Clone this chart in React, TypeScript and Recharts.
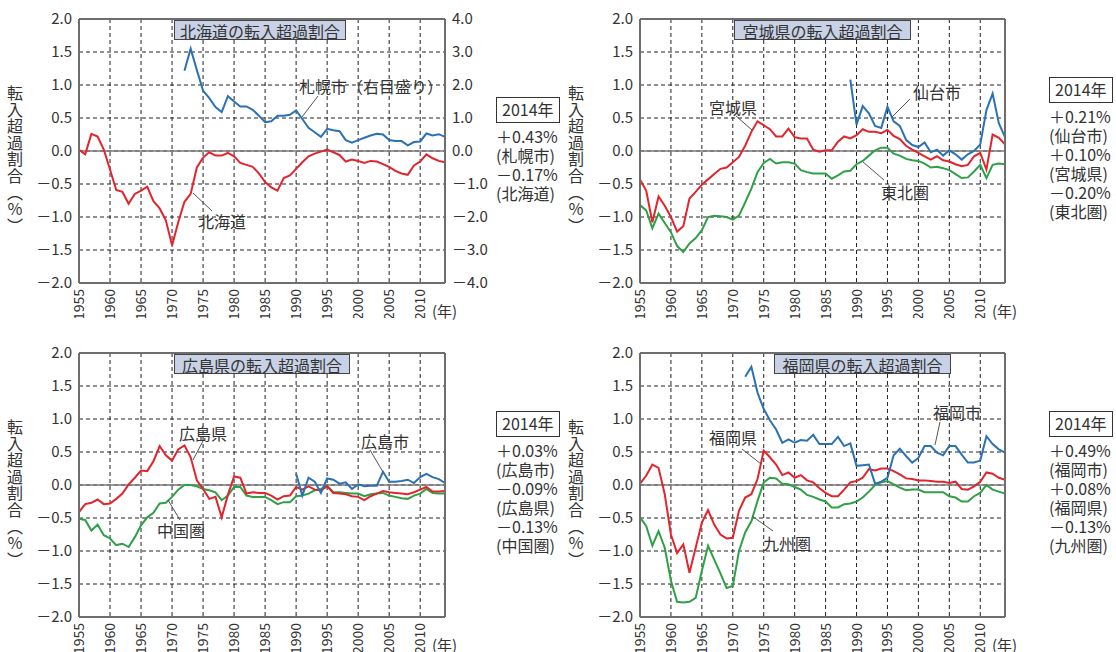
import { LineChart, Line, XAxis, YAxis, CartesianGrid, ReferenceLine } from "recharts";

// years 1955-2014
const YEARS = Array.from({ length: 60 }, (_, i) => 1955 + i);
const X_TICKS = [1955, 1960, 1965, 1970, 1975, 1980, 1985, 1990, 1995, 2000, 2005, 2010];
const LEFT_TICKS = [-2, -1.5, -1, -0.5, 0, 0.5, 1, 1.5, 2];
const RIGHT_TICKS = [-4, -3, -2, -1, 0, 1, 2, 3, 4];

const _ = null;

// 北海道 / 札幌市 (札幌市は右目盛り)
const HOKKAIDO = [
  0.02, -0.05, 0.26, 0.22, 0.02, -0.28, -0.59, -0.62, -0.8, -0.65,
  -0.6, -0.54, -0.76, -0.87, -1.05, -1.43, -1.08, -0.77, -0.65, -0.25,
  -0.1, -0.02, -0.07, -0.07, -0.03, -0.08, -0.18, -0.21, -0.24, -0.34,
  -0.47, -0.55, -0.6, -0.41, -0.37, -0.27, -0.17, -0.08, -0.04, -0.01,
  0.02, -0.02, -0.06, -0.16, -0.13, -0.15, -0.18, -0.15, -0.16, -0.2,
  -0.24, -0.3, -0.34, -0.36, -0.22, -0.16, -0.05, -0.11, -0.15, -0.17,
];
const SAPPORO = [
  _, _, _, _, _, _, _, _, _, _,
  _, _, _, _, _, _, _, 2.43, 3.1, 2.45,
  1.83, 1.6, 1.33, 1.18, 1.66, 1.5, 1.35, 1.35, 1.25, 1.07,
  0.87, 0.9, 1.07, 1.07, 1.1, 1.23, 0.97, 0.7, 0.57, 0.43,
  0.67, 0.63, 0.6, 0.33, 0.25, 0.33, 0.4, 0.47, 0.52, 0.5,
  0.33, 0.3, 0.3, 0.17, 0.27, 0.29, 0.53, 0.47, 0.51, 0.43,
];

// 宮城県 / 仙台市 / 東北圏
const MIYAGI = [
  -0.43, -0.6, -1.08, -0.69, -0.83, -1.0, -1.22, -1.14, -0.72, -0.62,
  -0.51, -0.43, -0.35, -0.27, -0.25, -0.17, -0.09, 0.08, 0.29, 0.45,
  0.39, 0.33, 0.22, 0.22, 0.34, 0.21, 0.19, 0.19, 0.02, -0.01,
  0.01, 0.01, 0.14, 0.22, 0.19, 0.24, 0.33, 0.29, 0.29, 0.27,
  0.32, 0.23, 0.18, 0.08, 0.02, -0.03, -0.08, -0.13, -0.08, -0.14,
  -0.16, -0.2, -0.23, -0.21, -0.08, -0.03, -0.28, 0.25, 0.2, 0.1,
];
const SENDAI = [
  _, _, _, _, _, _, _, _, _, _,
  _, _, _, _, _, _, _, _, _, _,
  _, _, _, _, _, _, _, _, _, _,
  _, _, _, _, 1.08, 0.4, 0.68, 0.57, 0.38, 0.35,
  0.67, 0.45, 0.38, 0.17, 0.09, 0.06, 0.13, -0.02, 0.02, -0.07,
  0.01, -0.05, -0.13, -0.05, 0.0, 0.1, 0.62, 0.87, 0.42, 0.21,
];
const TOHOKU = [
  -0.82, -0.9, -1.17, -0.95, -1.09, -1.23, -1.44, -1.53, -1.4, -1.32,
  -1.2, -1.0, -0.98, -0.99, -1.0, -1.04, -0.98, -0.78, -0.57, -0.32,
  -0.18, -0.12, -0.19, -0.17, -0.17, -0.19, -0.29, -0.32, -0.34, -0.34,
  -0.34, -0.42, -0.37, -0.31, -0.3, -0.2, -0.15, -0.07, 0.01, 0.05,
  0.05, -0.04, -0.07, -0.12, -0.14, -0.15, -0.19, -0.25, -0.24, -0.26,
  -0.29, -0.35, -0.41, -0.4, -0.31, -0.21, -0.41, -0.21, -0.19, -0.2,
];

// 広島県 / 広島市 / 中国圏
const HIROSHIMA = [
  -0.41, -0.29, -0.27, -0.22, -0.29, -0.28, -0.21, -0.13, 0.01, 0.11,
  0.22, 0.21, 0.36, 0.59, 0.45, 0.37, 0.54, 0.6, 0.42, 0.07,
  -0.06, -0.21, -0.18, -0.49, -0.15, 0.13, 0.11, -0.13, -0.11, -0.12,
  -0.12, -0.16, -0.22, -0.17, -0.16, -0.03, -0.07, -0.02, -0.07, -0.08,
  -0.02, -0.12, -0.13, -0.14, -0.17, -0.18, -0.23, -0.17, -0.13, -0.09,
  -0.11, -0.12, -0.13, -0.14, -0.11, -0.07, -0.03, -0.1, -0.1, -0.09,
];
const HIROSHIMA_CITY = [
  _, _, _, _, _, _, _, _, _, _,
  _, _, _, _, _, _, _, _, _, _,
  _, _, _, _, _, _, _, _, _, _,
  _, _, _, _, _, 0.17, -0.16, 0.11, 0.05, -0.12,
  0.1, 0.08, 0.02, 0.04, -0.06, 0.01, -0.02, -0.01, -0.01, 0.2,
  0.05, 0.05, 0.06, 0.08, 0.03, 0.12, 0.17, 0.12, 0.09, 0.03,
];
const CHUGOKU = [
  -0.51, -0.53, -0.69, -0.6, -0.76, -0.81, -0.91, -0.89, -0.94, -0.79,
  -0.61, -0.49, -0.42, -0.28, -0.27, -0.18, -0.07, 0.0, 0.0, -0.02,
  -0.06, -0.08, -0.11, -0.23, -0.16, -0.03, -0.03, -0.16, -0.18, -0.18,
  -0.18, -0.23, -0.29, -0.26, -0.26, -0.17, -0.16, -0.13, -0.08, -0.06,
  -0.01, -0.11, -0.11, -0.12, -0.13, -0.13, -0.17, -0.14, -0.13, -0.12,
  -0.16, -0.18, -0.2, -0.21, -0.16, -0.13, -0.06, -0.12, -0.13, -0.13,
];

// 福岡県 / 福岡市 / 九州圏
const FUKUOKA = [
  0.02, 0.14, 0.31, 0.26, -0.14, -0.75, -1.03, -0.9, -1.33, -0.95,
  -0.57, -0.38, -0.6, -0.75, -0.81, -0.8, -0.39, -0.19, -0.14, 0.09,
  0.52, 0.42, 0.31, 0.15, 0.19, 0.11, 0.15, 0.07, 0.04, -0.05,
  -0.12, -0.17, -0.17, -0.07, 0.04, 0.06, 0.11, 0.24, 0.22, 0.25,
  0.25, 0.21, 0.16, 0.1, 0.09, 0.07, 0.07, 0.06, 0.05, 0.05,
  0.03, 0.05, -0.06, -0.07, -0.02, 0.05, 0.19, 0.17, 0.11, 0.08,
];
const FUKUOKA_CITY = [
  _, _, _, _, _, _, _, _, _, _,
  _, _, _, _, _, _, _, 1.64, 1.79, 1.4,
  1.15, 0.98, 0.84, 0.64, 0.69, 0.64, 0.68, 0.67, 0.76, 0.62,
  0.62, 0.62, 0.73, 0.59, 0.63, 0.29, 0.3, 0.31, 0.02, 0.05,
  0.11, 0.45, 0.55, 0.44, 0.34, 0.41, 0.59, 0.59, 0.49, 0.45,
  0.59, 0.59, 0.46, 0.34, 0.34, 0.37, 0.74, 0.62, 0.54, 0.49,
];
const KYUSHU = [
  -0.49, -0.62, -0.92, -0.7, -0.95, -1.45, -1.77, -1.78, -1.77, -1.71,
  -1.3, -0.92, -1.13, -1.34, -1.56, -1.53, -1.0, -0.72, -0.55, -0.24,
  0.04, 0.11, 0.1, 0.02, 0.01, -0.03, -0.07, -0.15, -0.18, -0.22,
  -0.25, -0.34, -0.34, -0.29, -0.28, -0.25, -0.19, -0.1, 0.0, 0.04,
  0.06, 0.01, -0.04, -0.08, -0.07, -0.07, -0.11, -0.11, -0.11, -0.11,
  -0.17, -0.19, -0.25, -0.25, -0.17, -0.12, 0.0, -0.07, -0.1, -0.13,
];

const RED = "#e2242d";
const BLUE = "#2b72b5";
const GREEN = "#2fa048";
const AXIS = "#6e6e6e";
const INK = "#333";
const FONT = '"Noto Sans CJK JP", "Noto Sans", sans-serif';

const Y_LABEL = "転入超過割合（％）";

const fmt = (v: number) => (v < 0 ? "－" : "") + Math.abs(v).toFixed(1);

function YearTick(props: any) {
  const { x, y, payload } = props;
  return (
    <text
      x={x}
      y={y}
      transform={`rotate(-90 ${x} ${y})`}
      textAnchor="end"
      dy="0.36em"
      fontSize={14}
      fill={INK}
    >
      {payload.value}
    </text>
  );
}

const panels = [
  {
    left: 0, top: 0, width: 520, height: 318, mt: 19, ml: 19,
    title: "北海道の転入超過割合", titleBox: [174, 20, 172],
    series: [
      { key: "pref", values: HOKKAIDO, color: RED },
      { key: "city", values: SAPPORO, color: BLUE, right: true },
    ],
    yLabel: [7, 85], nen: [432, 310],
    note: [496, 97, ["＋0.43%", "(札幌市)", "－0.17%", "(北海道)"]],
    labels: [["札幌市（右目盛り）", 299, 86], ["北海道", 198, 221]],
    leaders: [[318, 96, 302, 117], [193, 193, 212, 211]],
  },
  {
    left: 556, top: 0, width: 524, height: 318, mt: 19, ml: 24,
    title: "宮城県の転入超過割合", titleBox: [734, 20, 177],
    series: [
      { key: "area", values: TOHOKU, color: GREEN },
      { key: "pref", values: MIYAGI, color: RED },
      { key: "city", values: SENDAI, color: BLUE },
    ],
    yLabel: [568, 85], nen: [992, 310],
    note: [1049, 77, ["＋0.21%", "(仙台市)", "＋0.10%", "(宮城県)", "－0.20%", "(東北圏)"]],
    labels: [["宮城県", 709, 107], ["仙台市", 913, 92], ["東北圏", 881, 192]],
    leaders: [[736, 116, 752, 130], [910, 99, 892, 117], [884, 180, 863, 162]],
  },
  {
    left: 0, top: 330, width: 520, height: 322, mt: 23, ml: 19,
    title: "広島県の転入超過割合", titleBox: [174, 354, 176],
    series: [
      { key: "area", values: CHUGOKU, color: GREEN },
      { key: "pref", values: HIROSHIMA, color: RED },
      { key: "city", values: HIROSHIMA_CITY, color: BLUE },
    ],
    yLabel: [7, 419], nen: [432, 644],
    note: [496, 411, ["＋0.03%", "(広島市)", "－0.09%", "(広島県)", "－0.13%", "(中国圏)"]],
    labels: [["広島県", 179, 433], ["広島市", 361, 441], ["中国圏", 157, 530]],
    leaders: [[203, 441, 193, 460], [370, 450, 383, 472], [180, 520, 168, 500]],
  },
  {
    left: 556, top: 330, width: 524, height: 322, mt: 23, ml: 24,
    title: "福岡県の転入超過割合", titleBox: [774, 354, 177],
    series: [
      { key: "area", values: KYUSHU, color: GREEN },
      { key: "pref", values: FUKUOKA, color: RED },
      { key: "city", values: FUKUOKA_CITY, color: BLUE },
    ],
    yLabel: [568, 419], nen: [992, 644],
    note: [1049, 411, ["＋0.49%", "(福岡市)", "＋0.08%", "(福岡県)", "－0.13%", "(九州圏)"]],
    labels: [["福岡県", 709, 437], ["福岡市", 933, 412], ["九州圏", 763, 543]],
    leaders: [[742, 449, 761, 464], [940, 422, 935, 445], [773, 531, 752, 516]],
  },
];

function Panel({ cfg }: { cfg: any }) {
  const rows = YEARS.map((year, i) => {
    const r: any = { year };
    cfg.series.forEach((s: any) => (r[s.key] = s.values[i]));
    return r;
  });
  return (
    <div style={{ position: "absolute", left: cfg.left, top: cfg.top }}>
      <LineChart
        width={cfg.width}
        height={cfg.height}
        data={rows}
        margin={{ top: cfg.mt, left: cfg.ml, right: 15, bottom: 0 }}
      >
        <CartesianGrid yAxisId="left" stroke="#222" strokeDasharray="4 3" strokeWidth={1} />
        <XAxis
          dataKey="year"
          type="number"
          domain={[1955, 2014]}
          ticks={X_TICKS}
          interval={0}
          tick={<YearTick />}
          height={35}
          axisLine={{ stroke: AXIS, strokeWidth: 2 }}
          tickLine={false}
          tickSize={5}
          tickMargin={1}
        />
        <YAxis
          yAxisId="left"
          domain={[-2, 2]}
          ticks={LEFT_TICKS}
          interval={0}
          tickFormatter={fmt}
          width={60}
          axisLine={{ stroke: AXIS, strokeWidth: 2 }}
          tickLine={false}
          tickSize={5}
          tickMargin={2}
          tick={{ fontSize: 15, fill: INK }}
        />
        <YAxis
          yAxisId="right"
          orientation="right"
          domain={[-4, 4]}
          ticks={RIGHT_TICKS}
          interval={0}
          tickFormatter={fmt}
          width={60}
          axisLine={{ stroke: AXIS, strokeWidth: 2 }}
          tickLine={false}
          tickSize={5}
          tickMargin={2}
          tick={{ fontSize: 15, fill: INK }}
        />
        <ReferenceLine yAxisId="left" y={0} stroke="#7a7a7a" strokeWidth={1.5} />
        <ReferenceLine yAxisId="left" y={2} stroke={AXIS} strokeWidth={2} />
        {cfg.series.map((s: any) => (
          <Line
            key={s.key}
            yAxisId={s.right ? "right" : "left"}
            dataKey={s.key}
            stroke={s.color}
            strokeWidth={2}
            dot={false}
            connectNulls={false}
            isAnimationActive={false}
          />
        ))}
      </LineChart>
    </div>
  );
}

export default function App() {
  return (
    <div
      style={{
        position: "absolute",
        left: 0,
        top: 0,
        width: 1116,
        height: 652,
        background: "#fff",
        fontFamily: FONT,
        color: INK,
        overflow: "hidden",
      }}
    >
      {panels.map((p, i) => (
        <Panel key={i} cfg={p} />
      ))}

      {panels.map((p: any, i) => (
        <div key={"t" + i}>
          <div
            style={{
              position: "absolute",
              left: p.titleBox[0],
              top: p.titleBox[1],
              width: p.titleBox[2],
              height: 20,
              lineHeight: "20px",
              background: "#c8d1e6",
              border: "1.5px solid #444",
              boxSizing: "border-box",
              fontSize: 16,
              textAlign: "center",
              whiteSpace: "nowrap",
            }}
          >
            {p.title}
          </div>
          <div
            style={{
              position: "absolute",
              left: p.yLabel[0],
              top: p.yLabel[1],
              writingMode: "vertical-rl",
              fontSize: 16,
              lineHeight: "16px",
              letterSpacing: 0.6,
            }}
          >
            {Y_LABEL}
          </div>
          <div
            style={{
              position: "absolute",
              left: p.note[0],
              top: p.note[1],
              fontSize: 16,
              whiteSpace: "nowrap",
            }}
          >
            <div
              style={{
                border: "1.5px solid #333",
                width: 64,
                height: 26,
                boxSizing: "border-box",
                lineHeight: "23px",
                fontSize: 16,
                paddingLeft: 5,
              }}
            >
              2014年
            </div>
            <div style={{ marginTop: 4, lineHeight: "19px" }}>
              {p.note[2].map((t: string, k: number) => (
                <div key={k}>{t}</div>
              ))}
            </div>
          </div>
        </div>
      ))}

      <svg
        width={1116}
        height={652}
        style={{ position: "absolute", left: 0, top: 0, pointerEvents: "none" }}
      >
        {panels.map((p: any, i) => (
          <g key={i}>
            {p.leaders.map((l: number[], k: number) => (
              <line key={k} x1={l[0]} y1={l[1]} x2={l[2]} y2={l[3]} stroke="#555" strokeWidth={1} />
            ))}
            {p.labels.map((l: any, k: number) => (
              <text key={k} x={l[1]} y={l[2]} dominantBaseline="central" fontSize={16} fill={INK}>
                {l[0]}
              </text>
            ))}
            <text x={p.nen[0]} y={p.nen[1]} dominantBaseline="central" fontSize={15} fill={INK}>
              (年)
            </text>
          </g>
        ))}
      </svg>
    </div>
  );
}
